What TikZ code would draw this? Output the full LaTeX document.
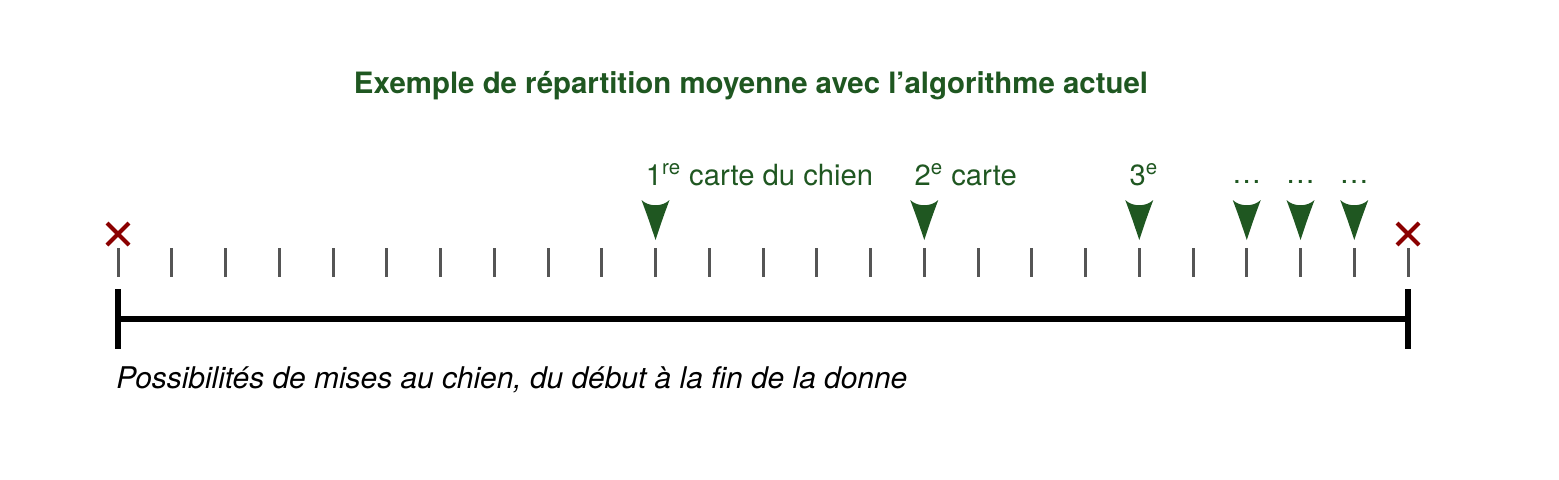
\documentclass[tikz,border=0pt]{standalone}
\usepackage{fontspec}
\setmainfont{TeX Gyre Heros}
\usetikzlibrary{positioning}
\definecolor{chiengreen}{RGB}{31,87,33}
\definecolor{crossred}{RGB}{139,0,0}
\definecolor{tickgray}{RGB}{85,85,85}
\begin{document}
\begin{tikzpicture}[x=0.5pt,y=-0.5pt,
  tick/.style={tickgray,line width=1.5pt},
  cross/.style={crossred,line width=2.1pt},
  bound/.style={black,line width=3.2pt},
  lbl/.style={chiengreen,font=\fontsize{14.6}{17}\selectfont,anchor=base west,inner sep=0pt},
  dots/.style={chiengreen,font=\fontsize{14.6}{17}\selectfont,anchor=base,inner sep=0pt},
]
\useasboundingbox (0,0) rectangle (1559,479);
% ---------- title ----------
\node[chiengreen,font=\fontsize{14.7}{17}\selectfont\bfseries,anchor=base,inner sep=0pt]
  (title) at (751,93) {Exemple de répartition moyenne avec l’algorithme actuel};
% ---------- ticks ----------
\foreach \i in {0,...,24}{
  \coordinate (t\i) at (118+53.75*\i,262);
  \draw[tick] (t\i) ++(0,-14) -- ++(0,29);
}
% end crosses
\foreach \i in {0,24}{
  \path (t\i) ++(0,-28) coordinate (x\i);
  \draw[cross] (x\i) ++(-11,-11) -- ++(22,22) ++(0,-22) -- ++(-22,22);
}
% ---------- markers ----------
\foreach \i in {10,15,19,21,22,23}{
  \pgfmathsetmacro\mx{118+53.75*\i}
  \coordinate (m\i) at (\mx,240);
  \fill[chiengreen] (m\i) .. controls (\mx-7,219) .. (\mx-14,200)
    .. controls (\mx-7,207) and (\mx+7,207) .. (\mx+14,200)
    .. controls (\mx+7,219) .. (m\i) -- cycle;
}
\path (t10) ++(-10,-77) node[lbl] (l1) {1\textsuperscript{re} carte du chien};
\path (t15) ++(-10,-77) node[lbl] (l2) {2\textsuperscript{e} carte};
\path (t19) ++(-10,-77) node[lbl] (l3) {3\textsuperscript{e}};
\foreach \i in {21,22,23}
  \path (t\i) ++(0,-79) node[dots] (d\i) {…};
% ---------- span ----------
\coordinate (s0) at (118,319);
\coordinate (s1) at (1408,319);
\draw[bound] (s0) -- (s1);
\draw[bound] (s0) ++(0,-30) -- ++(0,60);
\draw[bound] (s1) ++(0,-30) -- ++(0,60);
\node[font=\fontsize{14.95}{17}\selectfont\itshape,anchor=base west,inner sep=0pt]
  (span) at (116,388) {Possibilités de mises au chien, du début à la fin de la donne};
\end{tikzpicture}
\end{document}
